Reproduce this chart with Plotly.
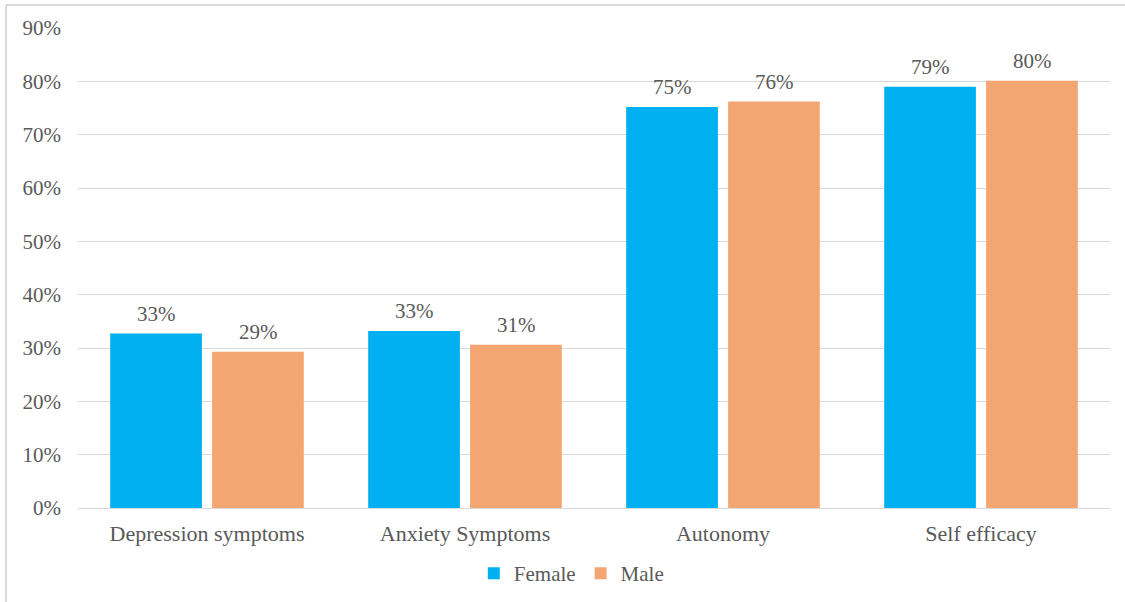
import plotly.graph_objects as go

categories = ["Depression symptoms", "Anxiety Symptoms", "Autonomy", "Self efficacy"]
female = [0.327, 0.332, 0.752, 0.790]
male = [0.293, 0.306, 0.762, 0.801]

FONT = "Liberation Serif"
TEXT_GREY = "#595959"

W, H = 1125, 602
ml, mr, mt, mb = 78, 15, 28, 94
pw, ph = W - ml - mr, H - mt - mb
BAR_OFFSET = 51  # px from category centre to each bar centre

fig = go.Figure()
fig.add_trace(go.Bar(name="Female", x=categories, y=female,
                     marker=dict(color="#00B0F0", line=dict(width=0))))
fig.add_trace(go.Bar(name="Male", x=categories, y=male,
                     marker=dict(color="#F4A672", line=dict(width=0))))

# value labels above each bar
for vals, shift in ((female, -BAR_OFFSET), (male, BAR_OFFSET)):
    for cat, v in zip(categories, vals):
        fig.add_annotation(x=cat, y=v, text=f"{v:.0%}", showarrow=False,
                           xshift=shift, yshift=6, yanchor="bottom",
                           font=dict(family=FONT, size=21, color=TEXT_GREY))

# chart-area frame (top and left edges)
x0 = (6 - ml) / pw
y_top = (H - 5 - mb) / ph
fig.add_shape(type="line", xref="paper", yref="paper", x0=x0, x1=(W - ml) / pw,
              y0=y_top, y1=y_top, line=dict(color="#D9D9D9", width=2))
fig.add_shape(type="line", xref="paper", yref="paper", x0=x0, x1=x0,
              y0=-mb / ph, y1=y_top, line=dict(color="#D9D9D9", width=2))

fig.update_layout(
    width=W, height=H,
    margin=dict(l=ml, r=mr, t=mt, b=mb, autoexpand=False),
    paper_bgcolor="white", plot_bgcolor="white",
    barmode="group", bargap=0.21, bargroupgap=0.1,
    font=dict(family=FONT, size=21, color=TEXT_GREY),
    showlegend=True,
    legend=dict(orientation="h", x=0.478, xanchor="center", y=-0.094, yanchor="top",
                font=dict(family=FONT, size=21, color=TEXT_GREY),
                itemwidth=30, traceorder="normal"),
)
fig.update_xaxes(showline=False, showgrid=False, ticks="", ticklabelstandoff=10,
                 tickfont=dict(family=FONT, size=22, color=TEXT_GREY))
fig.update_yaxes(range=[0, 0.9], dtick=0.1, tickformat=".0%",
                 showgrid=True, gridcolor="#D9D9D9", gridwidth=1.4,
                 zeroline=True, zerolinecolor="#D9D9D9", zerolinewidth=1.4,
                 showline=False, ticks="", ticklabelstandoff=16,
                 tickfont=dict(family=FONT, size=21, color=TEXT_GREY))

fig.write_html("out.html")
